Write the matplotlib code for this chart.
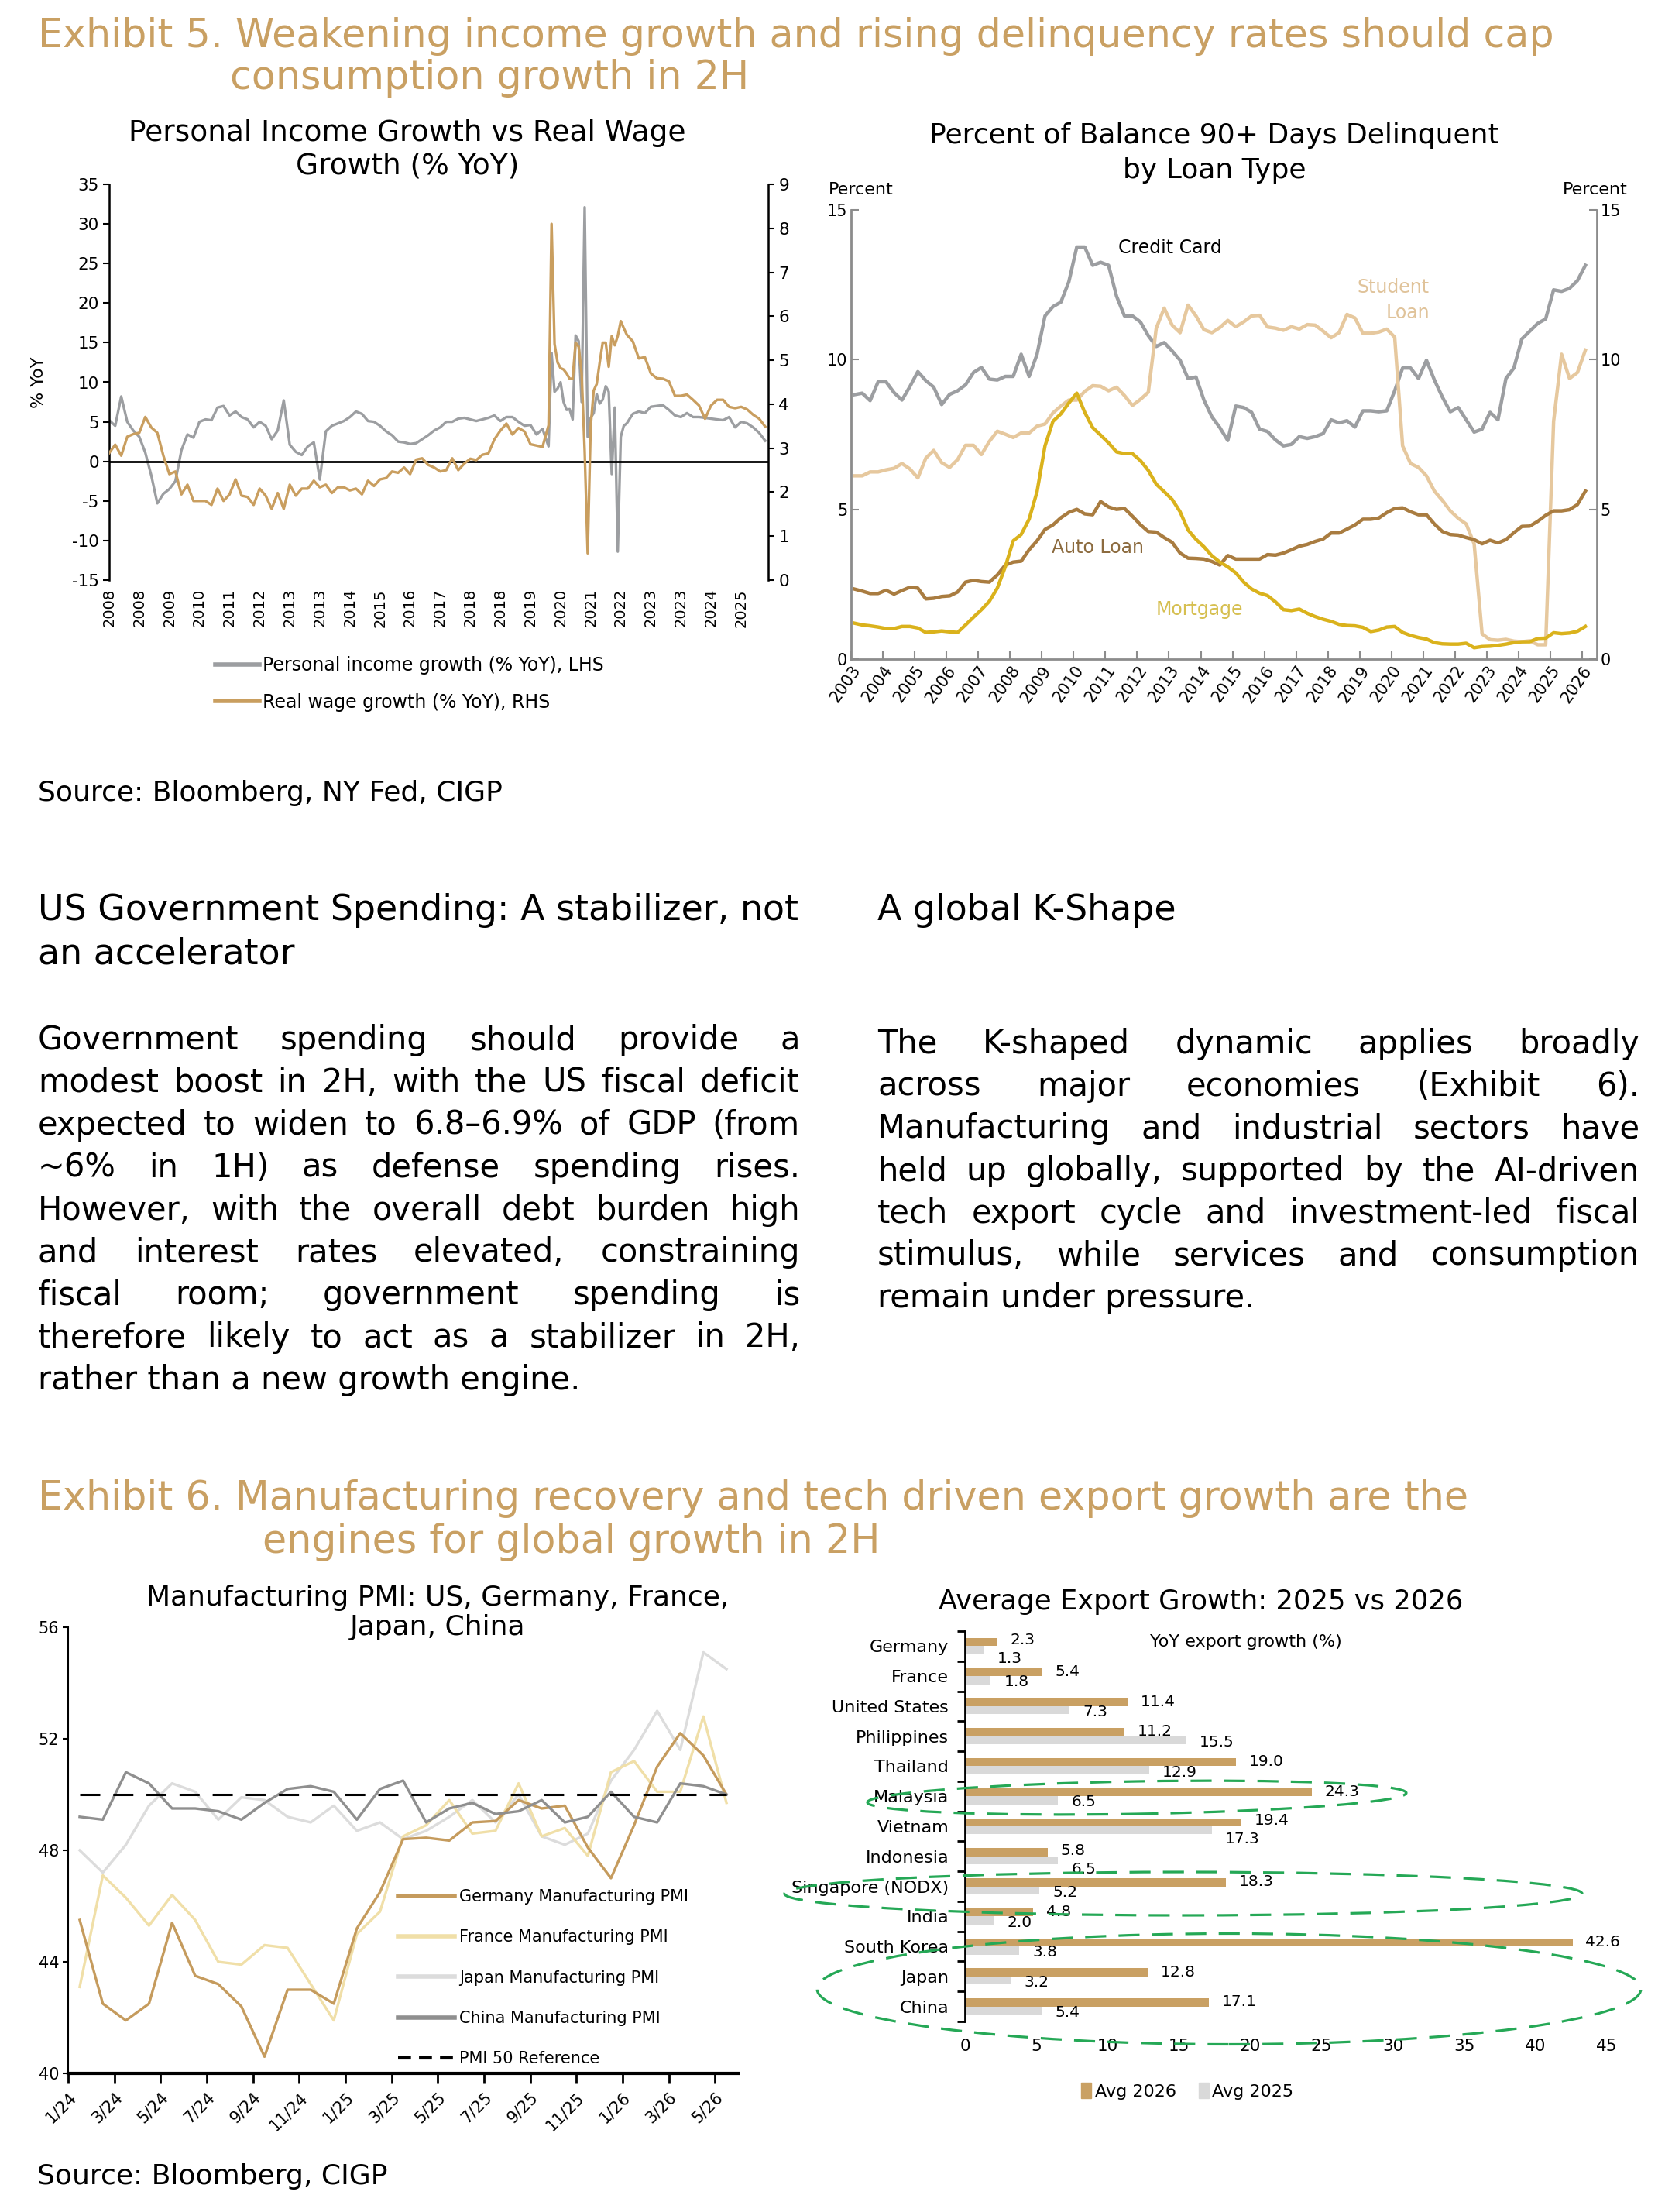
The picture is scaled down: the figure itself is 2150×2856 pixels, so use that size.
import matplotlib
matplotlib.use('Agg')
import matplotlib.pyplot as plt
from matplotlib.patches import Ellipse, Patch
from matplotlib.lines import Line2D
from matplotlib.transforms import IdentityTransform

plt.rcParams['font.family'] = 'DejaVu Sans'
plt.rcParams['axes.unicode_minus'] = False

W, H = 2150, 2856
GOLD = '#C9A063'

##### EXHIBIT 5 LEFT: personal income vs real wage (months since Jan 2008) #####
inc_months = list(range(0, 146, 2)) + list(range(146, 173)) + list(range(174, 219, 2))
income_yoy = [5.2, 4.5, 8.2, 5.0, 3.9, 3.1, 1.1, -1.8, -5.3, -4.1, -3.5, -2.5, 1.4, 3.4, 3.0, 5.0,
              5.3, 5.2, 6.8, 7.0, 5.8, 6.3, 5.6, 5.3, 4.3, 5.0, 4.5, 2.8, 3.9, 7.7, 2.1, 1.2,
              0.8, 1.9, 2.4, -2.3, 3.8, 4.5, 4.8, 5.1, 5.6, 6.3, 6.0, 5.1, 5.0, 4.5, 3.8, 3.3,
              2.5, 2.4, 2.2, 2.3, 2.8, 3.3, 3.9, 4.3, 5.0, 5.0, 5.4, 5.5, 5.3, 5.1, 5.3, 5.5,
              5.8, 5.1, 5.6, 5.6, 5.0, 4.5, 4.6, 3.4, 4.1,
              1.9, 13.7, 8.8, 9.2, 10.0, 7.5, 6.5, 6.6, 5.3, 15.9, 15.2, 7.5, 32.1, 3.1, 5.5,
              6.1, 8.5, 7.3, 7.8, 9.5, 8.8, -1.6, 6.8, -11.4, 3.1, 4.5, 4.8,
              6.0, 6.3, 6.1, 6.9, 7.0, 7.1, 6.5, 5.8, 5.6, 6.1, 5.6, 5.6, 5.5, 5.4, 5.3, 5.2,
              5.6, 4.3, 5.0, 4.8, 4.3, 3.6, 2.6]
wage_yoy = [2.89, 3.08, 2.83, 3.26, 3.32, 3.35, 3.71, 3.47, 3.35, 2.83, 2.41, 2.47, 1.95, 2.17, 1.8, 1.8,
            1.8, 1.71, 2.08, 1.8, 1.95, 2.29, 1.92, 1.89, 1.71, 2.08, 1.92, 1.62, 1.98, 1.62, 2.17, 1.92,
            2.08, 2.08, 2.26, 2.11, 2.17, 1.98, 2.11, 2.11, 2.04, 2.08, 1.95, 2.26, 2.14, 2.29, 2.32, 2.47,
            2.44, 2.56, 2.41, 2.74, 2.77, 2.62, 2.56, 2.47, 2.5, 2.77, 2.5, 2.65, 2.76, 2.73, 2.85, 2.88,
            3.2, 3.4, 3.56, 3.31, 3.46, 3.38, 3.09, 3.06, 3.03,
            3.52, 8.1, 5.37, 4.95, 4.82, 4.79, 4.7, 4.58, 4.58, 5.4, 5.31, 4.7, 2.94, 0.61, 3.49,
            4.31, 4.46, 4.95, 5.4, 5.4, 4.85, 5.55, 5.34, 5.55, 5.89, 5.73, 5.58,
            5.43, 5.04, 5.07, 4.7, 4.59, 4.58, 4.52, 4.19, 4.19, 4.22, 4.1, 3.97, 3.67, 3.97, 4.1, 4.1,
            3.94, 3.91, 3.94, 3.88, 3.76, 3.67, 3.49]
inc_ticklabels = ['2008', '2008', '2009', '2010', '2011', '2012', '2013', '2013', '2014', '2015', '2016',
                  '2017', '2018', '2018', '2019', '2020', '2021', '2022', '2023', '2023', '2024', '2025']

##### EXHIBIT 5 RIGHT: 90+ days delinquent, quarterly #####
credit_card = [8.83, 8.88, 8.63, 9.26, 9.26, 8.9, 8.65, 9.1, 9.6, 9.3, 9.08, 8.5, 8.84, 8.96, 9.16, 9.57,
               9.74, 9.35, 9.32, 9.44, 9.44, 10.18, 9.44, 10.18, 11.46, 11.77, 11.92, 12.6, 13.76, 13.76,
               13.15, 13.25, 13.15, 12.12, 11.46, 11.46, 11.26, 10.8, 10.44, 10.57, 10.29, 9.98, 9.37,
               9.42, 8.65, 8.09, 7.73, 7.3, 8.45,
               8.4, 8.24, 7.68, 7.6, 7.32, 7.12, 7.17, 7.43, 7.37, 7.43, 7.53, 7.99, 7.89, 7.96, 7.75,
               8.29, 8.29, 8.26, 8.29, 8.96, 9.72, 9.72, 9.37, 9.98, 9.32, 8.75, 8.26, 8.4, 7.99, 7.58,
               7.68, 8.24, 7.99, 9.37, 9.72, 10.69, 10.95, 11.21, 11.36, 12.33, 12.28, 12.38, 12.64, 13.15]
student_loan = [6.12, 6.12, 6.25, 6.25, 6.32, 6.37, 6.53, 6.35, 6.05, 6.71, 6.97, 6.56, 6.4, 6.66, 7.14,
                7.14, 6.83, 7.27, 7.61, 7.51, 7.4, 7.55, 7.55, 7.78, 7.85, 8.22, 8.45, 8.65, 8.65, 8.94,
                9.13, 9.11, 8.96, 9.08, 8.8, 8.47, 8.67, 8.91, 11.05, 11.72, 11.15, 10.9, 11.82, 11.46,
                11.0, 10.9, 11.07, 11.31, 11.1,
                11.26, 11.46, 11.48, 11.09, 11.05, 10.98, 11.1, 11.02, 11.17, 11.15, 10.95, 10.73, 10.9,
                11.51, 11.39, 10.88, 10.88, 10.92, 11.02, 10.75, 7.12, 6.53, 6.4, 6.12, 5.61, 5.3, 4.95,
                4.7, 4.51, 3.85, 0.84, 0.65, 0.63, 0.66, 0.6, 0.58, 0.61, 0.48, 0.48, 7.94, 10.18, 9.37,
                9.57, 10.32]
auto_loan = [2.34, 2.27, 2.19, 2.19, 2.3, 2.17, 2.29, 2.4, 2.37, 2.01, 2.03, 2.09, 2.11, 2.24, 2.57, 2.63,
             2.59, 2.57, 2.81, 3.14, 3.24, 3.27, 3.65, 3.95, 4.33, 4.48, 4.72, 4.9, 5.0, 4.85, 4.82, 5.26,
             5.08, 5.0, 5.03, 4.77, 4.49, 4.26, 4.24, 4.06, 3.9, 3.54, 3.37, 3.36, 3.34, 3.26, 3.14, 3.46,
             3.34,
             3.34, 3.34, 3.34, 3.49, 3.47, 3.54, 3.65, 3.77, 3.83, 3.93, 4.01, 4.21, 4.21, 4.34, 4.48,
             4.67, 4.67, 4.71, 4.89, 5.03, 5.05, 4.92, 4.82, 4.82, 4.51, 4.26, 4.16, 4.14, 4.06, 3.99,
             3.85, 3.97, 3.88, 3.99, 4.22, 4.43, 4.44, 4.6, 4.8, 4.95, 4.95, 4.99, 5.16, 5.61]
mortgage = [1.2, 1.14, 1.11, 1.07, 1.02, 1.02, 1.09, 1.09, 1.04, 0.89, 0.91, 0.94, 0.91, 0.89, 1.14, 1.4,
            1.65, 1.93, 2.37, 3.08, 3.95, 4.16, 4.67, 5.59, 7.12, 7.94, 8.19, 8.55, 8.88, 8.24, 7.73,
            7.48, 7.22, 6.92, 6.86, 6.86, 6.63, 6.3, 5.84, 5.59, 5.33, 4.92, 4.31, 4.0, 3.75, 3.45,
            3.24, 3.08, 2.88,
            2.57, 2.34, 2.2, 2.12, 1.91, 1.65, 1.62, 1.67, 1.53, 1.42, 1.33, 1.26, 1.16, 1.12, 1.11,
            1.06, 0.92, 0.97, 1.07, 1.09, 0.89, 0.79, 0.72, 0.67, 0.55, 0.51, 0.5, 0.5, 0.53, 0.38,
            0.42, 0.43, 0.46, 0.5, 0.55, 0.58, 0.58, 0.69, 0.7, 0.88, 0.85, 0.87, 0.93, 1.09]
dq_years = list(range(2003, 2027))

##### EXHIBIT 6 LEFT: manufacturing PMI, Jan 2024 - May 2026 #####
pmi_germany = [45.5, 42.5, 41.9, 42.5, 45.4, 43.5, 43.2, 42.4, 40.6, 43.0, 43.0, 42.5, 45.2, 46.5, 48.4,
               48.45, 48.35, 49.0, 49.05, 49.8, 49.5, 49.6, 48.1, 47.0, 48.9, 51.0, 52.2, 51.4, 50.0]
pmi_france = [43.1, 47.1, 46.3, 45.3, 46.4, 45.5, 44.0, 43.9, 44.6, 44.5, 43.2, 41.9, 45.0, 45.8, 48.5,
              48.9, 49.8, 48.6, 48.7, 50.4, 48.5, 48.8, 47.8, 50.8, 51.2, 50.1, 50.1, 52.8, 49.7]
pmi_japan = [48.0, 47.2, 48.2, 49.6, 50.4, 50.1, 49.1, 49.9, 49.8, 49.2, 49.0, 49.6, 48.7, 49.0, 48.4,
             48.7, 49.2, 49.8, 49.0, 50.0, 48.5, 48.2, 48.6, 50.5, 51.6, 53.0, 51.6, 55.1, 54.5]
pmi_china = [49.2, 49.1, 50.8, 50.4, 49.5, 49.5, 49.4, 49.1, 49.7, 50.2, 50.3, 50.1, 49.1, 50.2, 50.5,
             49.0, 49.5, 49.7, 49.3, 49.4, 49.8, 49.0, 49.2, 50.1, 49.2, 49.0, 50.4, 50.3, 50.0]
pmi_ref = [50] * 29
pmi_ticklabels = ['1/24', '3/24', '5/24', '7/24', '9/24', '11/24', '1/25', '3/25', '5/25', '7/25',
                  '9/25', '11/25', '1/26', '3/26', '5/26']

##### EXHIBIT 6 RIGHT: average export growth #####
countries = ['Germany', 'France', 'United States', 'Philippines', 'Thailand', 'Malaysia', 'Vietnam',
             'Indonesia', 'Singapore (NODX)', 'India', 'South Korea', 'Japan', 'China']
exp_2026 = [2.3, 5.4, 11.4, 11.2, 19.0, 24.3, 19.4, 5.8, 18.3, 4.8, 42.6, 12.8, 17.1]
exp_2025 = [1.3, 1.8, 7.3, 15.5, 12.9, 6.5, 17.3, 6.5, 5.2, 2.0, 3.8, 3.2, 5.4]

left_par = ["Government spending should provide a",
            "modest boost in 2H, with the US fiscal deficit",
            "expected to widen to 6.8\u20136.9% of GDP (from",
            "~6% in 1H) as defense spending rises.",
            "However, with the overall debt burden high",
            "and  interest rates elevated, constraining",
            "fiscal room; government spending is",
            "therefore likely to act as a stabilizer in 2H,",
            "rather than a new growth engine."]
right_par = ["The K-shaped dynamic applies broadly",
             "across major economies (Exhibit 6).",
             "Manufacturing and industrial sectors have",
             "held up globally, supported by the AI-driven",
             "tech export cycle and investment-led fiscal",
             "stimulus, while services and consumption",
             "remain under pressure."]

fig = plt.figure(figsize=(W / 100, H / 100), dpi=100)


def axes_px(x0, y0, x1, y1):
    return fig.add_axes([x0 / W, 1 - y1 / H, (x1 - x0) / W, (y1 - y0) / H])


def ftext(x, y, s, **kw):
    kw.setdefault('va', 'center')
    return fig.text(x / W, 1 - y / H, s, **kw)


def justify(lines, x0, x1, y0, step, size):
    r = fig.canvas.get_renderer()
    for k, line in enumerate(lines):
        y = y0 + k * step
        words = line.split()
        if k == len(lines) - 1:
            ftext(x0, y, ' '.join(words), fontsize=size)
            continue
        ts = [ftext(x0, y, w, fontsize=size) for w in words]
        ws = [t.get_window_extent(r).width for t in ts]
        gap = (x1 - x0 - sum(ws)) / (len(words) - 1)
        x = x0
        for t, w in zip(ts, ws):
            t.set_x(x / W)
            x += w + gap


##### TITLES AND TEXT #####
ftext(49, 47, 'Exhibit 5. Weakening income growth and rising delinquency rates should cap', fontsize=36.5, color=GOLD)
ftext(297, 101, 'consumption growth in 2H', fontsize=36.5, color=GOLD)
ftext(49, 1024, 'Source: Bloomberg, NY Fed, CIGP', fontsize=26)
ftext(49, 1175, 'US Government Spending: A stabilizer, not', fontsize=33)
ftext(49, 1232, 'an accelerator', fontsize=33)
ftext(1133, 1175, 'A global K-Shape', fontsize=33)
justify(left_par, 49, 1033, 1343, 54.9, 30)
justify(right_par, 1133, 2117, 1348, 54.7, 30)
ftext(49, 1935, 'Exhibit 6. Manufacturing recovery and tech driven export growth are the', fontsize=36.5, color=GOLD)
ftext(339, 1991, 'engines for global growth in 2H', fontsize=36.5, color=GOLD)
ftext(48, 2810, 'Source: Bloomberg, CIGP', fontsize=26)

##### CHART 1 #####
ax1 = axes_px(141, 238, 992, 749)
ax1.plot(inc_months, income_yoy, color='#9C9EA1', lw=2.4)
ax1.axhline(0, color='black', lw=2)
ax1.set_xlim(0, 219)
ax1.set_ylim(-15, 35)
ax1.set_yticks(range(-15, 36, 5))
ax1.set_xticks(range(0, 211, 10))
ax1.set_xticklabels(inc_ticklabels, rotation=90, fontsize=14)
ax1.tick_params(axis='x', length=0, pad=8)
ax1.tick_params(axis='y', labelsize=15.5, length=6, width=1.5)
for s in ['top', 'bottom', 'right']:
    ax1.spines[s].set_visible(False)
ax1.spines['left'].set_linewidth(1.8)
ax1.set_ylabel('% YoY', fontsize=16)
ax1.yaxis.set_label_coords(-0.095, 0.5)
ax1r = ax1.twinx()
ax1r.plot(inc_months, wage_yoy, color='#C99E5F', lw=2.4)
ax1r.set_ylim(0, 9)
ax1r.set_yticks(range(0, 10))
ax1r.tick_params(axis='y', labelsize=15.5, length=6, width=1.5)
for s in ['top', 'bottom', 'left']:
    ax1r.spines[s].set_visible(False)
ax1r.spines['right'].set_linewidth(1.8)
ftext(526, 172, 'Personal Income Growth vs Real Wage', fontsize=27, ha='center')
ftext(526, 215, 'Growth (% YoY)', fontsize=27, ha='center')
fig.legend([Line2D([], [], color='#9C9EA1', lw=4), Line2D([], [], color='#C99E5F', lw=4)],
           ['Personal income growth (% YoY), LHS', 'Real wage growth (% YoY), RHS'],
           loc='upper left', bbox_to_anchor=(278 / W, 1 - 847 / H), frameon=False, fontsize=17,
           handlelength=2.4, handletextpad=0.2, labelspacing=1.0, borderpad=0, borderaxespad=0)

##### CHART 2 #####
dq_x = [2003.1 + 0.25 * i for i in range(len(credit_card))]
ax2 = axes_px(1099, 271, 2062, 851)
ax2.plot(dq_x, credit_card, color='#9C9EA1', lw=3.2)
ax2.plot(dq_x, student_loan, color='#E6C89E', lw=3.2)
ax2.plot(dq_x, auto_loan, color='#A97C40', lw=3.2)
ax2.plot(dq_x, mortgage, color='#DAB21C', lw=3.2)
ax2.set_xlim(2003, 2026.46)
ax2.set_ylim(0, 15)
ax2.set_yticks([0, 5, 10, 15])
ax2.set_xticks(dq_years)
ax2.set_xticklabels([str(y) for y in dq_years], rotation=55, ha='right', va='top',
                    rotation_mode='anchor', fontsize=15)
ax2.tick_params(direction='in', color='#8C8C8C', length=7, width=1.5, labelsize=15,
                right=True, labelright=True)
ax2.spines['top'].set_visible(False)
for s in ['left', 'right', 'bottom']:
    ax2.spines[s].set_color('#8C8C8C')
    ax2.spines[s].set_linewidth(2)
ftext(1568, 175, 'Percent of Balance 90+ Days Delinquent', fontsize=26, ha='center')
ftext(1568, 220, 'by Loan Type', fontsize=26, ha='center')
ftext(1112, 245, 'Percent', fontsize=16, ha='center')
ftext(2060, 245, 'Percent', fontsize=16, ha='center')
ftext(1511, 320, 'Credit Card', fontsize=17, ha='center')
ftext(1846, 371, 'Student', fontsize=17, ha='right', color='#E0C39A')
ftext(1846, 404, 'Loan', fontsize=17, ha='right', color='#E0C39A')
ftext(1358, 707, 'Auto Loan', fontsize=17, color='#8C6B3F')
ftext(1493, 787, 'Mortgage', fontsize=17, color='#D6BF50')

##### CHART 3 #####
pmi_x = [i + 0.5 for i in range(len(pmi_germany))]
ax3 = axes_px(88, 2101, 953, 2677)
ax3.plot(pmi_x, pmi_japan, color='#DCDCDC', lw=2.4)
ax3.plot(pmi_x, pmi_france, color='#F0DFA8', lw=2.4)
ax3.plot(pmi_x, pmi_germany, color='#C59B5D', lw=2.4)
ax3.plot(pmi_x, pmi_china, color='#8F8F8F', lw=2.4)
ax3.plot(pmi_x, pmi_ref, color='black', lw=2.2, dashes=(8.5, 5.5))
ax3.set_xlim(0, 29)
ax3.set_ylim(40, 56)
ax3.set_yticks([40, 44, 48, 52, 56])
ax3.set_xticks(range(0, 29, 2))
ax3.set_xticklabels(pmi_ticklabels, rotation=45, ha='right', va='top', rotation_mode='anchor', fontsize=15)
ax3.tick_params(axis='x', length=9, width=2, pad=6)
ax3.tick_params(axis='y', length=5, width=1.5, labelsize=15)
for s in ['top', 'right']:
    ax3.spines[s].set_visible(False)
ax3.spines['bottom'].set_linewidth(3)
ax3.spines['left'].set_linewidth(1.5)
ftext(565, 2063, 'Manufacturing PMI: US, Germany, France,', fontsize=26, ha='center')
ftext(565, 2101, 'Japan, China', fontsize=26, ha='center')
fig.legend([Line2D([], [], color='#C59B5D', lw=4), Line2D([], [], color='#F0DFA8', lw=4),
            Line2D([], [], color='#DCDCDC', lw=4), Line2D([], [], color='#8F8F8F', lw=4),
            Line2D([], [], color='black', lw=3, dashes=(4, 2.5))],
           ['Germany Manufacturing PMI', 'France Manufacturing PMI', 'Japan Manufacturing PMI',
            'China Manufacturing PMI', 'PMI 50 Reference'],
           loc='upper left', bbox_to_anchor=(514 / W, 1 - 2439 / H), frameon=False, fontsize=15,
           handlelength=3.5, handletextpad=0.3, labelspacing=1.55, borderpad=0, borderaxespad=0)

##### CHART 4 #####
pos = list(range(len(countries)))
ax4 = axes_px(1246, 2106, 2075, 2610)
ax4.barh([p - 0.135 for p in pos], exp_2026, height=0.27, color=GOLD)
ax4.barh([p + 0.135 for p in pos], exp_2025, height=0.27, color='#D9D9D9')
for p, a, b in zip(pos, exp_2026, exp_2025):
    # when the two labels would sit on top of each other, spread them apart a little
    close = abs(a - b) < 2.6
    ax4.text(a + 0.9, p - (0.2 if close else 0.15), f'{a:.1f}', fontsize=14.5, va='center')
    ax4.text(b + 0.95, p + (0.42 if close else 0.2), f'{b:.1f}', fontsize=14.5, va='center')
ax4.set_ylim(12.5, -0.5)
ax4.set_xlim(0, 45)
ax4.set_yticks(pos)
ax4.set_yticklabels(countries, fontsize=16)
ax4.set_yticks([p - 0.5 for p in range(len(countries) + 1)], minor=True)
ax4.tick_params(axis='y', which='major', length=0, pad=15)
ax4.tick_params(axis='y', which='minor', length=7, width=2)
ax4.set_xticks(range(0, 46, 5))
ax4.tick_params(axis='x', length=0, labelsize=15.5, pad=16)
for s in ['top', 'right', 'bottom']:
    ax4.spines[s].set_visible(False)
ax4.spines['left'].set_linewidth(2)
ftext(1551, 2068, 'Average Export Growth: 2025 vs 2026', fontsize=25.5, ha='center')
ftext(1609, 2120, 'YoY export growth (%)', fontsize=16, ha='center')
fig.legend([Patch(color=GOLD), Patch(color='#D9D9D9')], ['Avg 2026', 'Avg 2025'],
           loc='center left', bbox_to_anchor=(1396 / W, 1 - 2700 / H), ncol=2, frameon=False,
           fontsize=16, handlelength=0.6, handleheight=1.0, handletextpad=0.2, columnspacing=1.3,
           borderpad=0, borderaxespad=0)

# green dashed highlight rings (pixel coords)
for cx, cy, w, h, ang in [(1468, 2321, 696, 42, 1), (1528, 2445, 1030, 56, 0), (1587, 2568, 1064, 143, 0)]:
    fig.add_artist(Ellipse((cx, H - cy), w, h, angle=ang, transform=IdentityTransform(), fill=False,
                           ec='#25A856', lw=2.3, ls=(0, (8.5, 5)), zorder=10))

fig.savefig('out.png', dpi=100)
